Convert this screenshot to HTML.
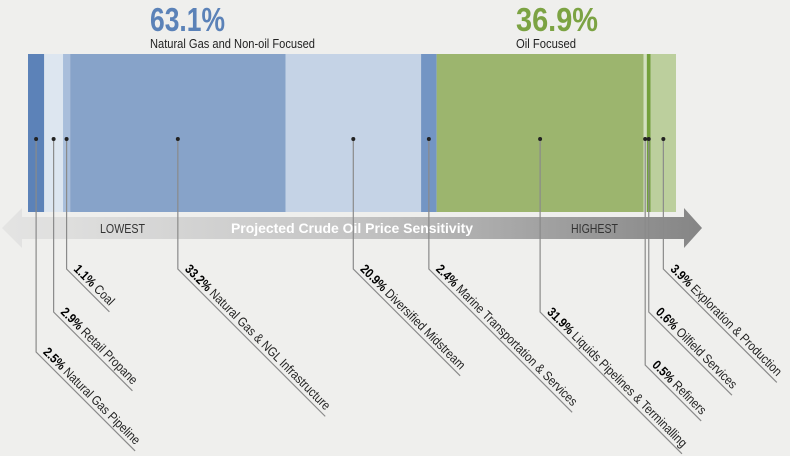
<!DOCTYPE html>
<html><head><meta charset="utf-8"><style>
html,body{margin:0;padding:0;background:#efefed;}
svg{display:block;font-family:"Liberation Sans Narrow","Liberation Sans",sans-serif;}
</style></head><body>
<svg id="chart" width="790" height="456" viewBox="0 0 790 456">
<defs><linearGradient id="ag" x1="0" x2="1" y1="0" y2="0">
<stop offset="0" stop-color="#e4e4e3"/><stop offset="0.5" stop-color="#c4c4c4"/><stop offset="1" stop-color="#858585"/></linearGradient></defs>
<text x="150" y="31" font-size="33" font-weight="bold" fill="#5b82b8" textLength="75" lengthAdjust="spacingAndGlyphs">63.1%</text>
<text x="150" y="48" font-size="13" fill="#222" textLength="165" lengthAdjust="spacingAndGlyphs">Natural Gas and Non-oil Focused</text>
<text x="516" y="31" font-size="33" font-weight="bold" fill="#7ca343" textLength="82" lengthAdjust="spacingAndGlyphs">36.9%</text>
<text x="516" y="48" font-size="13" fill="#222" textLength="60" lengthAdjust="spacingAndGlyphs">Oil Focused</text>
<g id="bars"></g>
<g>
<polygon points="2,228 22,208 22,217 684,217 684,208 702,228 684,248 684,239 22,239 22,248" fill="url(#ag)"/>
<text x="100" y="233" font-size="13" fill="#333" textLength="45" lengthAdjust="spacingAndGlyphs">LOWEST</text>
<text x="231" y="233" font-size="14" font-weight="bold" fill="#fff" textLength="242" lengthAdjust="spacingAndGlyphs">Projected Crude Oil Price Sensitivity</text>
<text x="571" y="233" font-size="13" fill="#333" textLength="47" lengthAdjust="spacingAndGlyphs">HIGHEST</text>
</g>
<g id="leaders"></g>
</svg>
<script>
const categories = ["Natural Gas Pipeline","Retail Propane","Coal","Natural Gas & NGL Infrastructure","Diversified Midstream","Marine Transportation & Services","Liquids Pipelines & Terminalling","Refiners","Oilfield Services","Exploration & Production"];
const values = [2.5,2.9,1.1,33.2,20.9,2.4,31.9,0.5,0.6,3.9];
const valueLabels = ["2.5%","2.9%","1.1%","33.2%","20.9%","2.4%","31.9%","0.5%","0.6%","3.9%"];
const colors = ["#5c82b8","#dde6f0","#a9bedb","#87a3c9","#c5d3e6","#7395c4","#9cb56e","#d3e0c0","#74a03c","#bccf9d"];
const turnY = [352,312,269,269,269,269,312,365,312,269];
const NS="http://www.w3.org/2000/svg";
const total = values.reduce((a,b)=>a+b,0);
const X0=28, W=648, Y0=54, H=158, DOTY=139, SX=0.86;
const x = v => X0 + v/total*W;
const bars=document.getElementById('bars'), leaders=document.getElementById('leaders');
let cum=0;
values.forEach((v,i)=>{
  const x1=x(cum), x2=x(cum+v); cum+=v;
  const r=document.createElementNS(NS,'rect');
  
  
  r.setAttribute('x',x1);r.setAttribute('y',Y0);r.setAttribute('width',x2-x1);r.setAttribute('height',H);r.setAttribute('fill',colors[i]);
  bars.appendChild(r);
  const cx=(x1+x2)/2, ty=turnY[i];
  const g=document.createElementNS(NS,'g');
  
  
  const t=document.createElementNS(NS,'text');
  
  
  t.setAttribute('font-size','13');t.setAttribute('fill','#222');
  t.setAttribute('transform','translate('+cx+','+ty+') rotate(45) translate(5,-4) scale('+SX+',1)');
  const b=document.createElementNS(NS,'tspan');b.setAttribute('font-weight','bold');b.setAttribute('fill','#000');b.textContent=valueLabels[i];
  t.appendChild(b);t.appendChild(document.createTextNode(' '+categories[i]));
  g.appendChild(t);leaders.appendChild(g);
  const len=t.getComputedTextLength()*SX+9;
  const d=len/Math.SQRT2;
  const p=document.createElementNS(NS,'polyline');
  
  
  p.setAttribute('points',cx+','+DOTY+' '+cx+','+ty+' '+(cx+d)+','+(ty+d));
  p.setAttribute('fill','none');p.setAttribute('stroke','#8a8a8a');p.setAttribute('stroke-width','1.2');
  g.insertBefore(p,t);
  const c=document.createElementNS(NS,'circle');
  
  
  c.setAttribute('cx',cx);c.setAttribute('cy',DOTY);c.setAttribute('r','2');c.setAttribute('fill','#222');
  g.appendChild(c);
});
</script>
</body></html>
